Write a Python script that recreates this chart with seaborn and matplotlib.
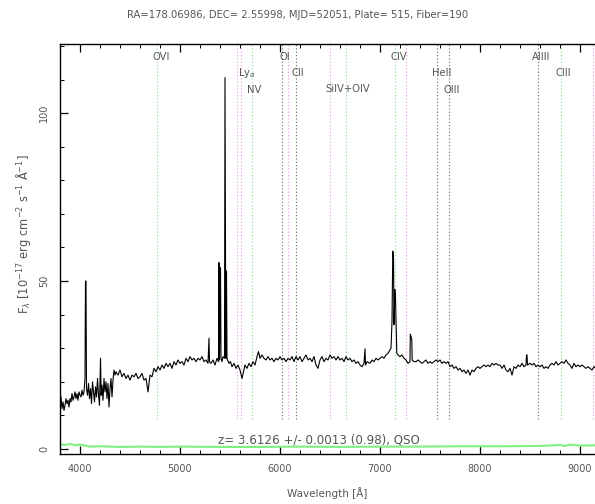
import numpy as np
import pandas as pd
import matplotlib
matplotlib.use("Agg")
import matplotlib.pyplot as plt
import seaborn as sns
from matplotlib.ticker import MultipleLocator

# ---------------- data ----------------
wave = [3800, 3810, 3820, 3830, 3840, 3850, 3860, 3870, 3880, 3890, 3900, 3910, 3920, 3930,
        3940, 3950, 3960, 3970, 3980, 3990, 4000, 4010, 4020, 4030, 4040, 4050, 4055, 4060,
        4065, 4075, 4085, 4095, 4105, 4115, 4125, 4135, 4145, 4155, 4165, 4175, 4185, 4195,
        4205, 4212, 4220, 4230, 4240, 4250, 4260, 4270, 4280, 4290, 4300, 4310, 4320, 4330,
        4340, 4350, 4360, 4380, 4400, 4420, 4440, 4460, 4480, 4500, 4520, 4540, 4560, 4580,
        4600, 4620, 4640, 4660, 4680, 4690, 4700, 4720, 4740, 4760, 4780, 4800, 4820, 4840,
        4860, 4880, 4900, 4920, 4940, 4960, 4980, 5000, 5020, 5040, 5060, 5080, 5100, 5120,
        5140, 5160, 5180, 5200, 5220, 5240, 5260, 5280, 5290, 5295, 5310, 5330, 5350, 5370,
        5385, 5390, 5395, 5405, 5410, 5420, 5430, 5445, 5450, 5458, 5465, 5470, 5475, 5490,
        5505, 5520, 5540, 5560, 5580, 5600, 5620, 5635, 5650, 5670, 5690, 5710, 5730, 5750,
        5770, 5785, 5800, 5820, 5840, 5860, 5880, 5900, 5920, 5940, 5960, 5980, 6000, 6020,
        6040, 6060, 6080, 6100, 6120, 6140, 6160, 6180, 6200, 6220, 6240, 6260, 6280, 6300,
        6320, 6340, 6360, 6380, 6400, 6420, 6440, 6460, 6480, 6500, 6520, 6540, 6560, 6580,
        6600, 6620, 6640, 6660, 6680, 6700, 6720, 6740, 6760, 6780, 6800, 6820, 6840, 6850,
        6855, 6870, 6900, 6920, 6940, 6960, 6980, 7000, 7020, 7040, 7060, 7080, 7100, 7110,
        7120, 7128, 7135, 7140, 7148, 7155, 7162, 7168, 7180, 7200, 7220, 7240, 7260, 7280,
        7300, 7303, 7310, 7318, 7322, 7340, 7360, 7380, 7400, 7420, 7440, 7460, 7480, 7500,
        7520, 7540, 7560, 7580, 7600, 7620, 7640, 7660, 7680, 7700, 7720, 7740, 7760, 7780,
        7800, 7820, 7840, 7860, 7880, 7900, 7920, 7940, 7960, 7980, 8000, 8020, 8040, 8060,
        8080, 8100, 8120, 8140, 8160, 8180, 8200, 8220, 8240, 8260, 8280, 8300, 8320, 8340,
        8360, 8380, 8400, 8420, 8440, 8460, 8465, 8470, 8475, 8500, 8520, 8540, 8560, 8580,
        8600, 8620, 8640, 8660, 8680, 8700, 8720, 8740, 8760, 8780, 8800, 8820, 8840, 8860,
        8880, 8900, 8920, 8940, 8960, 8980, 9000, 9020, 9040, 9060, 9080, 9100, 9120, 9140,
        9160, 9180, 9200]
flux = [13.5, 15.5, 12.0, 14.0, 11.5, 13.0, 15.0, 13.5, 14.5, 12.5, 15.0, 14.0, 16.5, 14.5,
        15.5, 17.0, 15.0, 16.5, 14.5, 17.0, 16.0, 15.5, 17.5, 16.0, 17.0, 21.0, 50.0, 50.0,
        18.0, 16.0, 19.5, 15.0, 18.0, 13.5, 20.0, 17.0, 14.0, 18.5, 15.5, 21.0, 16.0, 13.0,
        27.0, 16.0, 19.0, 14.5, 21.0, 17.0, 20.0, 15.0, 19.5, 12.5, 18.0, 21.0, 15.5, 20.5,
        23.5, 22.0, 23.0, 22.0, 23.5, 21.5, 22.5, 21.0, 22.0, 20.5, 22.0, 21.5, 22.5, 21.0,
        21.5, 22.5, 20.5, 21.0, 17.0, 19.5, 22.0, 21.5, 24.0, 23.0, 24.5, 23.5, 25.0, 24.0,
        25.5, 24.5, 25.5, 24.0, 26.0, 25.0, 26.5, 25.5, 26.0, 25.0, 27.0, 26.0, 27.5, 26.5,
        27.0, 26.0, 27.0, 26.5, 27.5, 26.0, 26.5, 25.5, 33.0, 26.0, 25.5, 26.5, 25.0, 27.0,
        26.0, 55.5, 26.5, 54.0, 27.0, 26.0, 27.5, 27.0, 110.6, 27.0, 53.0, 27.0, 26.5, 25.5,
        26.0, 24.5, 25.5, 24.0, 25.0, 23.5, 21.0, 23.0, 25.0, 24.0, 25.5, 24.5, 26.0, 25.0,
        27.5, 29.0, 27.0, 28.0, 27.0, 26.5, 27.5, 26.5, 27.0, 26.0, 27.0, 26.5, 27.5, 26.5,
        27.0, 26.0, 27.0, 26.5, 27.5, 26.0, 27.5, 26.5, 27.5, 26.0, 27.0, 28.0, 26.5, 27.0,
        26.0, 27.5, 25.0, 24.0, 26.5, 27.5, 26.0, 27.0, 26.5, 28.0, 27.0, 27.5, 26.5, 27.5,
        26.5, 27.0, 26.0, 27.5, 26.5, 27.0, 26.0, 26.5, 25.5, 26.0, 25.0, 24.5, 25.5, 29.8,
        25.0, 26.0, 25.5, 26.5, 26.0, 27.0, 26.5, 27.0, 27.5, 27.0, 28.0, 28.5, 29.5, 30.0,
        38.0, 58.9, 57.0, 37.0, 47.5, 45.0, 36.5, 28.5, 28.0, 27.5, 28.0, 27.0, 26.5, 25.5,
        26.0, 34.2, 33.5, 32.5, 26.5, 26.0, 26.0, 26.5, 26.0, 25.5, 26.0, 26.5, 25.5, 26.0,
        25.5, 26.0, 26.5, 26.0, 26.5, 25.5, 26.0, 25.5, 26.0, 24.5, 25.0, 24.0, 24.5, 23.5,
        24.0, 23.0, 23.5, 22.5, 23.5, 22.0, 23.5, 23.0, 24.0, 24.5, 24.0, 24.5, 25.0, 24.5,
        25.0, 24.5, 25.5, 25.0, 25.5, 25.0, 25.0, 24.0, 25.0, 23.5, 23.0, 24.0, 22.0, 24.5,
        24.0, 25.0, 24.5, 25.5, 24.5, 25.0, 28.0, 28.0, 25.0, 25.5, 25.0, 25.5, 24.5, 25.0,
        24.5, 25.0, 24.0, 24.5, 24.0, 25.0, 25.5, 25.0, 26.0, 25.0, 25.5, 26.0, 25.5, 26.5,
        25.5, 25.0, 24.0, 25.5, 24.5, 25.0, 24.5, 25.0, 24.5, 24.0, 24.5, 24.0, 23.5, 24.5,
        24.0, 24.5, 24.0]

err_wave = [3800, 3850, 3900, 3950, 4000, 4050, 4100, 4200, 4400, 4600, 4800, 5000, 5400,
            5800, 6200, 6600, 7000, 7400, 7800, 8200, 8600, 8800, 8850, 8900, 9000, 9200]
err_flux = [1.4, 1.2, 1.5, 1.1, 1.3, 1.0, 0.7, 0.8, 0.6, 0.7, 0.6, 0.7, 0.6,
            0.6, 0.7, 0.6, 0.7, 0.7, 0.8, 0.8, 0.9, 1.2, 0.9, 1.3, 1.0, 1.1]

line_waves = [4768, 5573, 5607, 5723, 6017, 6083, 6160, 6500, 6660, 7146, 7257,
              7567, 7690, 8577, 8806, 9125]
line_kinds = ["green", "pink", "pink", "green", "black", "pink", "black", "pink", "green",
              "green", "pink", "black", "black", "black", "green", "pink"]

label_text = ["OVI", r"Ly$_\alpha$", "NV", "OI", "CII", "SiIV+OIV", "CIV", "HeII",
              "OIII", "AlIII", "CIII"]
label_wave = [4727, 5583, 5673, 5993, 6117, 6450, 7107, 7517, 7640, 8517, 8757]
label_flux = [116.8, 112.0, 107.0, 116.8, 112.0, 107.3, 116.8, 112.0, 107.0, 116.8, 112.0]

title = "RA=178.06986, DEC= 2.55998, MJD=52051, Plate= 515, Fiber=190"
z_text = "z= 3.6126 +/- 0.0013 (0.98), QSO"

# ---------------- figure ----------------
sns.set_style("ticks")
plt.rcParams["font.family"] = ["DejaVu Sans"]
W, H = 595, 504
fig = plt.figure(figsize=(W / 100, H / 100), dpi=100)
left, right, top, bottom = 60, 605, 44, 454
ax = fig.add_axes([left / W, 1 - bottom / H, (right - left) / W, (bottom - top) / H])

txtc = "#555555"
kind_colors = {"green": "#8ad88a", "pink": "#e39ae3", "black": "#666666"}

# line markers
for kind, col in kind_colors.items():
    xs = [w for w, k in zip(line_waves, line_kinds) if k == kind]
    ax.vlines(xs, 9, 121, colors=col, linestyles=(0, (1, 2.0)), linewidth=0.8, zorder=1)

df = pd.DataFrame({"wave": wave, "flux": flux})
sns.lineplot(data=df, x="wave", y="flux", ax=ax, color="black", linewidth=0.8,
             sort=False, estimator=None, zorder=3)
de = pd.DataFrame({"wave": err_wave, "err": err_flux})
sns.lineplot(data=de, x="wave", y="err", ax=ax, color="#80ee80", linewidth=1.5,
             sort=False, estimator=None, zorder=2)

for t, xw, yv in zip(label_text, label_wave, label_flux):
    ax.text(xw, yv, t, fontsize=7.2, color=txtc, ha="left", va="center", zorder=4)

ax.text(5380, 2.6, z_text, fontsize=8.6, color=txtc, ha="left", va="center", zorder=4)

ax.set_xlim(3800, 9250)
ax.set_ylim(-1.5, 120.6)
ax.xaxis.set_major_locator(MultipleLocator(1000))
ax.xaxis.set_minor_locator(MultipleLocator(200))
ax.yaxis.set_major_locator(MultipleLocator(50))
ax.yaxis.set_minor_locator(MultipleLocator(10))
ax.tick_params(which="both", direction="in", top=True, right=True, colors="black",
               labelcolor=txtc, labelsize=7)
ax.tick_params(which="major", length=6, width=0.9)
ax.tick_params(which="minor", length=3, width=0.7)
ax.tick_params(axis="x", pad=7)
ax.tick_params(axis="y", pad=8)
for lab in ax.get_yticklabels():
    lab.set_rotation(90)
    lab.set_va("center")
ax.set_xlabel("")
ax.set_ylabel("")
for s in ax.spines.values():
    s.set_linewidth(1.0)
    s.set_color("black")

fig.text(0.5, 1 - 15 / H, title, ha="center", va="center", fontsize=7.2, color=txtc)
fig.text(327 / W, 1 - 493 / H, "Wavelength [Å]", ha="center", va="center",
         fontsize=7.5, color=txtc)
fig.text(24 / W, 1 - 234 / H,
         r"F$_\lambda$ [10$^{-17}$ erg cm$^{-2}$ s$^{-1}$ Å$^{-1}$]",
         ha="center", va="center", rotation=90, fontsize=8.3, color=txtc)

fig.savefig("out.png", dpi=100)
